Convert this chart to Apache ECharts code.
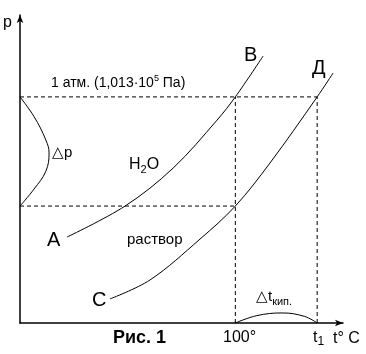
<!DOCTYPE html>
<html>
<head>
<meta charset="utf-8">
<script src="https://cdn.jsdelivr.net/npm/echarts@6/dist/echarts.min.js"></script>
<style>
  html, body { margin: 0; padding: 0; background: #fff; }
  #main { width: 366px; height: 354px; }
</style>
</head>
<body>
<div id="main"></div>
<script>
// кривая давления пара над чистой водой (A-B), x: t °C, y: p кПа
var waterCurve = [[21.8, 38.5], [48.8, 52.4], [71.1, 69.4], [91.5, 90.9], [100, 101.3], [112.9, 119.6]];
// кривая над раствором (C-Д)
var solutionCurve = [[41.8, 10.8], [60.4, 19.3], [83.6, 37.6], [100, 52.4], [116.1, 71.7], [138, 101.3], [145.4, 112.0]];
// скобка delta p
var dpBrace = [[0, 101.3], [6.5, 92.5], [12.0, 82.0], [13.5, 76.2], [12.0, 68.0], [6.5, 60.0], [0, 52.4]];
// скобка delta t кип.
var dtBrace = [[100, 0], [110, 3.3], [121.7, 4.5], [132, 3.0], [138, 0]];

var pAtm = 101.3;   // 1 атм
var pLow = 52.4;    // давление пара над раствором при 100°
var tBoil = 100;    // t кипения воды
var t1 = 138;       // t кипения раствора

var myChart = echarts.init(document.getElementById('main'));

var thin = { color: '#000', width: 1 };
var dash = { color: '#000', width: 1, type: [4, 3] };

function curve(data, style, smooth) {
    return {
        type: 'line',
        data: data,
        smooth: smooth || false,
        showSymbol: false,
        silent: true,
        lineStyle: style,
        animation: false
    };
}

var font = '"Liberation Sans", Arial, sans-serif';
function txt(x, y, text, size, extra) {
    var st = {
        text: text,
        fill: '#000',
        font: (extra && extra.bold ? 'bold ' : '') + size + 'px ' + font,
        textAlign: 'left',
        textVerticalAlign: 'middle'
    };
    if (extra && extra.rich) st.rich = extra.rich;
    return { type: 'text', x: x, y: y, style: st, silent: true };
}

var option = {
    animation: false,
    backgroundColor: '#fff',
    grid: { left: 20, right: 23, top: 15, bottom: 31 },
    xAxis: {
        type: 'value', min: 0, max: 150,
        axisLine: { show: true, symbol: ['none', 'arrow'], symbolSize: [5, 8], lineStyle: { color: '#000', width: 1.5 } },
        axisTick: { show: false }, axisLabel: { show: false }, splitLine: { show: false }
    },
    yAxis: {
        type: 'value', min: 0, max: 138,
        axisLine: { show: true, symbol: ['none', 'arrow'], symbolSize: [5, 8], lineStyle: { color: '#000', width: 1.5 } },
        axisTick: { show: false }, axisLabel: { show: false }, splitLine: { show: false }
    },
    series: [
        curve([[0, pAtm], [t1, pAtm]], dash),
        curve([[0, pLow], [tBoil, pLow]], dash),
        curve([[tBoil, 0], [tBoil, pAtm]], dash),
        curve([[t1, 0], [t1, pAtm]], dash),
        curve(waterCurve, thin, 0.35),
        curve(solutionCurve, thin, 0.35),
        curve(dpBrace, thin, 0.4),
        curve(dtBrace, thin, 0.4)
    ],
    graphic: [
        txt(3, 23, 'p', 16),
        txt(51, 83, '{a|1 атм. (1,013·10}{s|5}{a| Па)}', 14, { rich: {
            a: { fontSize: 14, fontFamily: font, lineHeight: 18 },
            s: { fontSize: 9, fontFamily: font, verticalAlign: 'top', lineHeight: 18 }
        } }),
        txt(244, 55, 'В', 20),
        txt(312, 68, 'Д', 20),
        txt(52, 153, '△p', 15),
        txt(129, 165, '{a|H}{s|2}{a|O}', 16, { rich: {
            a: { fontSize: 16, fontFamily: font, lineHeight: 20 },
            s: { fontSize: 11, fontFamily: font, verticalAlign: 'bottom', lineHeight: 20 }
        } }),
        txt(47, 240, 'А', 20),
        txt(127, 240, 'раствор', 15),
        txt(92, 300, 'С', 20),
        txt(256, 297, '{a|△t}{s|кип.}', 15, { rich: {
            a: { fontSize: 15, fontFamily: font, lineHeight: 20 },
            s: { fontSize: 11, fontFamily: font, verticalAlign: 'bottom', lineHeight: 20 }
        } }),
        txt(113, 338, 'Рис. 1', 18, { bold: true }),
        txt(223, 338, '100°', 16),
        txt(313, 338, '{a|t}{s|1}', 16, { rich: {
            a: { fontSize: 16, fontFamily: font, lineHeight: 20 },
            s: { fontSize: 12, fontFamily: font, verticalAlign: 'bottom', lineHeight: 20 }
        } }),
        txt(333, 339, 't° C', 16)
    ]
};
myChart.setOption(option);
</script>
</body>
</html>
